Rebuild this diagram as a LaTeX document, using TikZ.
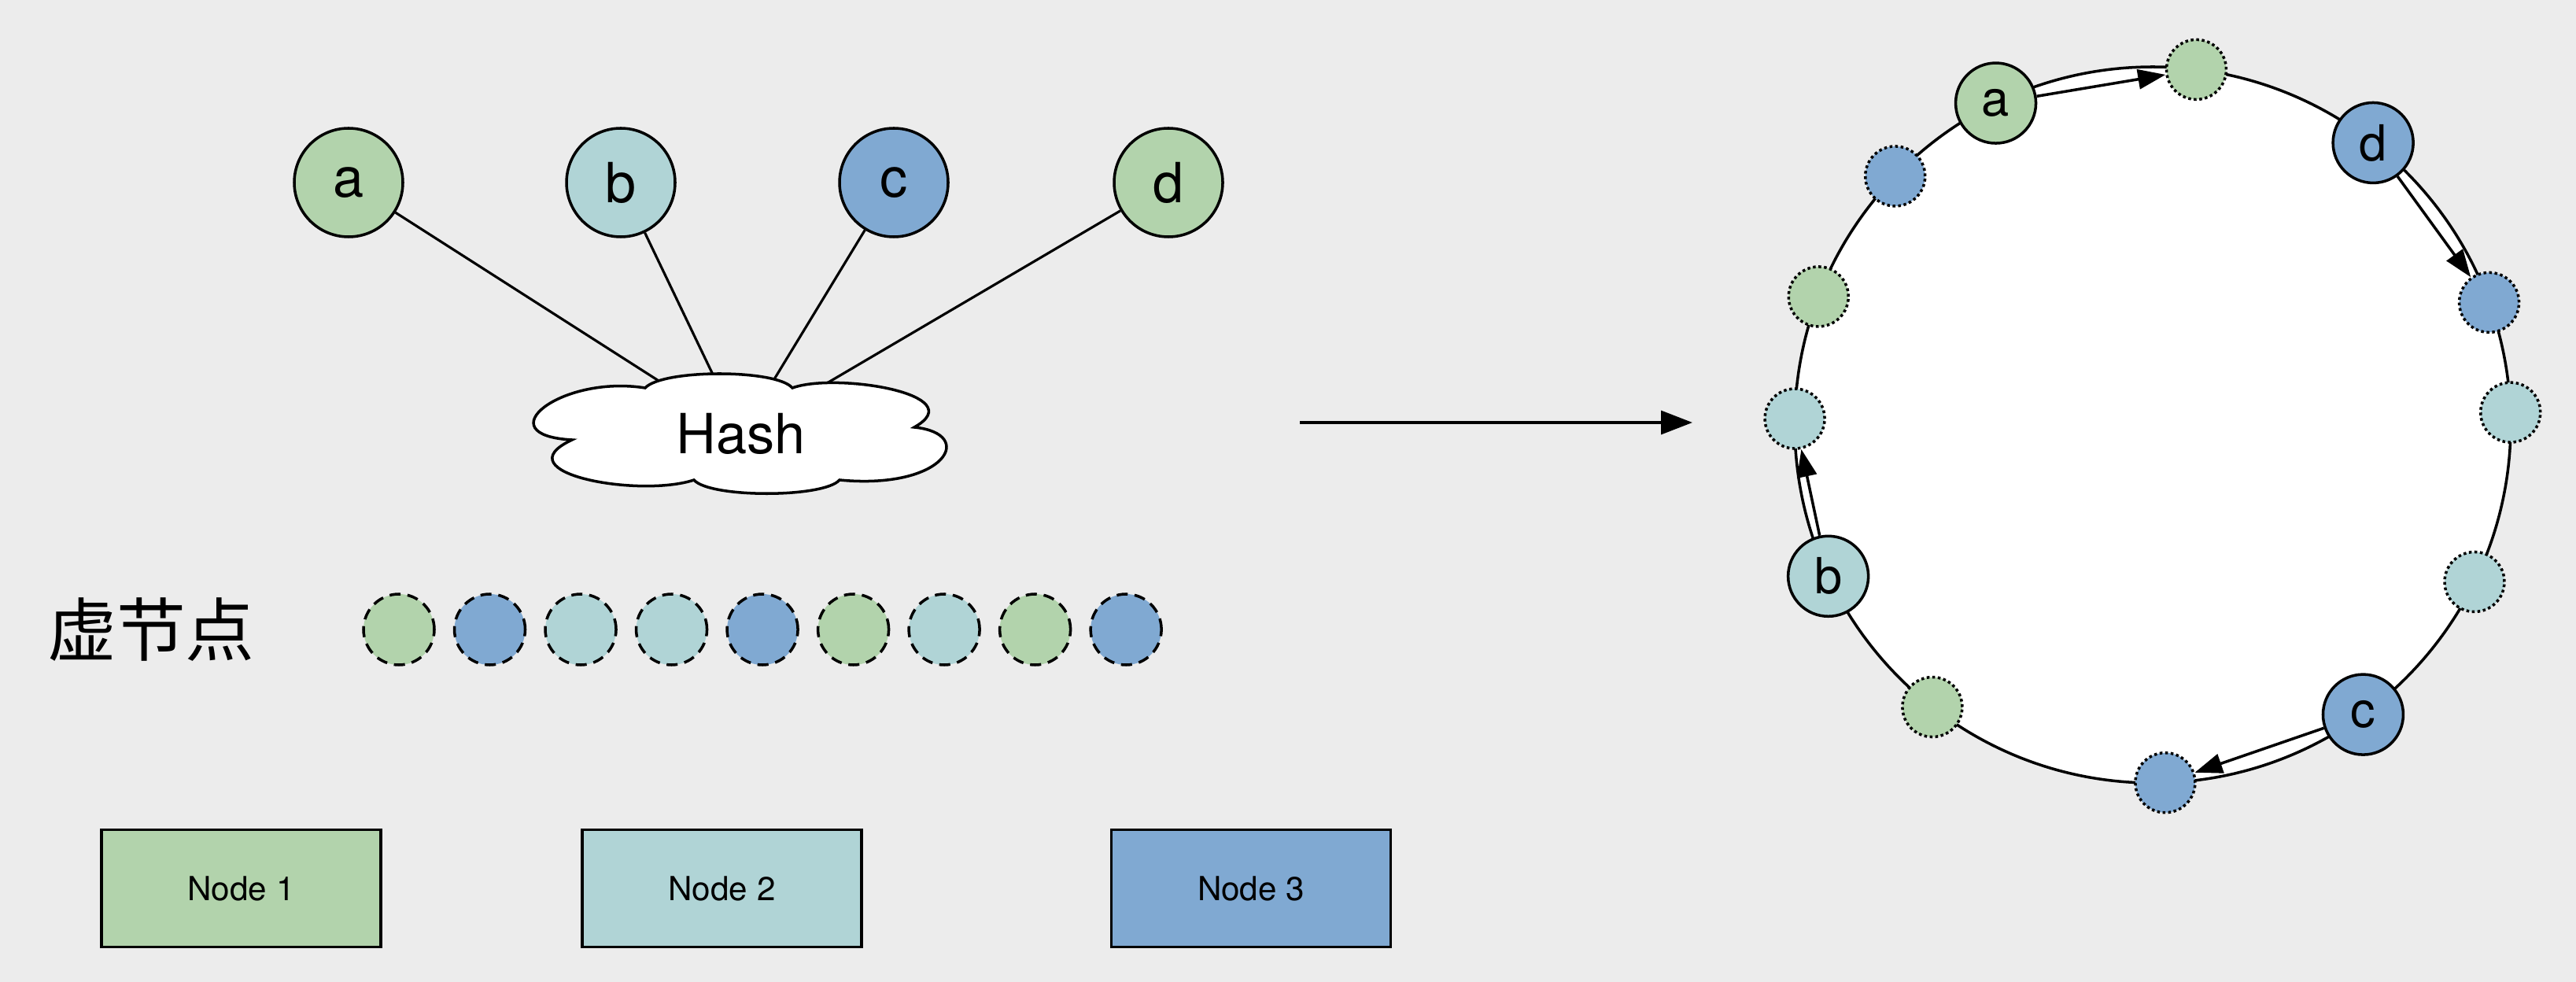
\documentclass[tikz,border=0pt]{standalone}
\usepackage{fontspec}
\setmainfont{TeX Gyre Heros}
\newfontfamily\cjk{Noto Sans CJK SC}
\usepackage{xcolor}
\usepackage{tikz}
\usetikzlibrary{shapes.geometric, arrows.meta, positioning, calc}

\definecolor{ngreen}{RGB}{178,211,172}
\definecolor{nteal}{RGB}{176,212,214}
\definecolor{nblue}{RGB}{128,169,210}
\definecolor{bggray}{RGB}{236,236,236}

\pgfdeclarelayer{bg}
\pgfsetlayers{bg,main}

\begin{document}
\begin{tikzpicture}[node distance=0.22cm,
    key/.style={circle, draw, line width=1pt, minimum size=1.38cm, inner sep=0pt, font=\fontsize{20}{24}\selectfont},
    ringkey/.style={circle, draw, line width=1pt, minimum size=1.02cm, inner sep=0pt, font=\fontsize{18}{22}\selectfont},
    vnode/.style={circle, draw, line width=1pt, dash pattern=on 4pt off 2.5pt, minimum size=0.9cm, inner sep=0pt},
    ringv/.style={circle, draw, line width=1pt, densely dotted, minimum size=0.76cm, inner sep=0pt},
    block/.style={rectangle, draw, line width=1pt, minimum width=3.55cm, minimum height=1.49cm, font=\fontsize{12}{14}\selectfont},
    link/.style={line width=0.9pt},
    arrow/.style={line width=1pt, -{Triangle[length=4mm,width=3mm]}},
    ringarrow/.style={line width=1pt, -{Triangle[length=3.5mm,width=2.5mm]}}]

    % keys and hash
    \node (a) [key, fill=ngreen] at (4.43,-2.32) {a};
    \node (b) [key, fill=nteal] at (7.89,-2.32) {b};
    \node (c) [key, fill=nblue] at (11.36,-2.32) {c};
    \node (d) [key, fill=ngreen] at (14.85,-2.32) {d};
    \node (hash) [ellipse, minimum width=4.4cm, minimum height=1.2cm, font=\fontsize{20}{24}\selectfont] at (9.42,-5.51) {Hash};

    \begin{pgfonlayer}{bg}
    \fill[bggray] (0,0) rectangle (32.74,-12.48);
    \draw [link] (a) -- (hash);
    \draw [link] (b) -- (hash);
    \draw [link] (c) -- (hash);
    \draw [link] (d) -- (hash);
    % cloud outline
    \draw [line width=1pt, fill=white, shift={(hash.center)}] (-2.15,-0.08)
        .. controls (-3.25,-0.02) and (-2.3,0.75) .. (-1.22,0.58)
        .. controls (-1.0,0.82) and (0.45,0.82) .. (0.65,0.58)
        .. controls (1.2,0.78) and (2.95,0.5) .. (2.20,0.08)
        .. controls (3.0,0.0) and (2.6,-0.72) .. (1.25,-0.59)
        .. controls (1.05,-0.82) and (-0.4,-0.82) .. (-0.60,-0.59)
        .. controls (-1.3,-0.82) and (-3.05,-0.5) .. (-2.15,-0.08) -- cycle;
    \end{pgfonlayer}

    % virtual nodes
    \node (vlabel) [font=\cjk\fontsize{25}{30}\selectfont] at (1.92,-8.00) {虚节点};
    \node (v1) [vnode, fill=ngreen] at (5.07,-8.00) {};
    \node (v2) [vnode, fill=nblue, right=of v1] {};
    \node (v3) [vnode, fill=nteal, right=of v2] {};
    \node (v4) [vnode, fill=nteal, right=of v3] {};
    \node (v5) [vnode, fill=nblue, right=of v4] {};
    \node (v6) [vnode, fill=ngreen, right=of v5] {};
    \node (v7) [vnode, fill=nteal, right=of v6] {};
    \node (v8) [vnode, fill=ngreen, right=of v7] {};
    \node (v9) [vnode, fill=nblue, right=of v8] {};

    % real nodes
    \node (node1) [block, fill=ngreen] at (3.065,-11.29) {Node 1};
    \node (node2) [block, fill=nteal] at (9.175,-11.29) {Node 2};
    \node (node3) [block, fill=nblue] at (15.90,-11.29) {Node 3};

    \coordinate (arrS) at (16.52,-5.37);
    \coordinate (arrE) at (21.51,-5.37);
    \draw [arrow] (arrS) -- (arrE);

    % hash ring
    \node (ring) [circle, draw, line width=1pt, fill=white, minimum size=9.1cm] at (27.36,-5.40) {};
    \begin{scope}[shift={(27.36,-5.40)}]
    \node (r1) [ringv, fill=ngreen] at (83:4.55) {};
    \node (r2) [ringv, fill=nblue] at (20:4.55) {};
    \node (r3) [ringv, fill=nteal] at (2:4.55) {};
    \node (r4) [ringv, fill=nteal] at (-26:4.55) {};
    \node (r5) [ringv, fill=nblue] at (-88:4.55) {};
    \node (r6) [ringv, fill=ngreen] at (-128:4.55) {};
    \node (r7) [ringv, fill=nteal] at (179:4.55) {};
    \node (r8) [ringv, fill=ngreen] at (159:4.55) {};
    \node (r9) [ringv, fill=nblue] at (136:4.55) {};
    \node (ra) [ringkey, fill=ngreen] at (116:4.55) {a};
    \node (rd) [ringkey, fill=nblue] at (52:4.55) {d};
    \node (rb) [ringkey, fill=nteal] at (205:4.55) {b};
    \node (rc) [ringkey, fill=nblue] at (-54:4.55) {c};
    \end{scope}

    \draw [ringarrow] (ra) -- (r1);
    \draw [ringarrow] (rd) -- (r2);
    \draw [ringarrow] (rb) -- (r7);
    \draw [ringarrow] (rc) -- (r5);
\end{tikzpicture}
\end{document}
